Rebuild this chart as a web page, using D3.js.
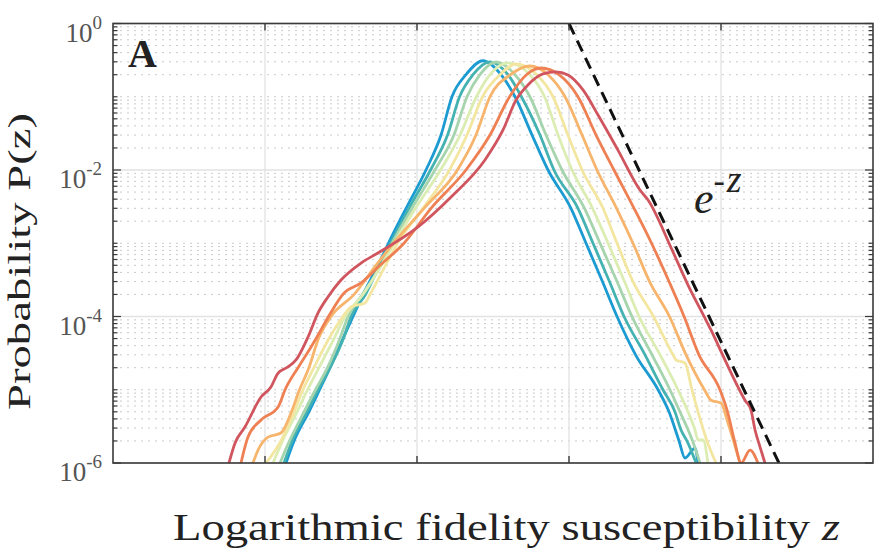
<!DOCTYPE html>
<html><head><meta charset="utf-8">
<script src="https://cdn.jsdelivr.net/npm/d3@7"></script>
<style>body{margin:0;background:#fff}svg{display:block}</style>
</head><body>
<script>
// ---- data (z = logarithmic fidelity susceptibility, P = probability) ----
const colors = ["#1b9bd1","#45b2b2","#a5d4ad","#dcedb3","#f3e6a0","#f7b46c","#ee8053","#d0555e"];

const zBlue = [-18.62,-18.09,-17.11,-16.41,-15.72,-14.87,-14.21,-13.55,-12.57,-11.88,-10.72,-9.41,-8.42,-7.70,-6.78,-5.66,-4.47,-3.55,-2.43,-1.38,0.13,1.12,2.20,3.16,4.38,5.86,6.58,7.24,7.63,8.29,8.49];
const pBlue = [1e-6,2e-6,5e-6,1e-5,2e-5,5e-5,1e-4,2e-4,5e-4,1e-3,3e-3,1e-2,3e-2,0.1,0.2,0.31,0.2,0.1,3e-2,1e-2,3e-3,1e-3,3e-4,1e-4,3e-5,1e-5,5e-6,2e-6,1.17e-6,1.6e-6,1e-6];

const zTeal = [-18.75,-18.22,-17.24,-16.51,-15.72,-14.84,-14.34,-13.39,-12.47,-11.74,-10.53,-9.11,-7.99,-7.20,-6.32,-5.20,-4.01,-3.13,-1.91,-0.99,0.59,1.58,2.66,3.62,5.00,6.18,6.97,7.37,7.76,8.36];
const pTeal = [1e-6,2e-6,5e-6,1e-5,2e-5,5e-5,1e-4,2e-4,5e-4,1e-3,3e-3,1e-2,3e-2,0.1,0.2,0.30,0.2,0.1,3e-2,1e-2,3e-3,1e-3,3e-4,1e-4,3e-5,1e-5,5e-6,2.82e-6,2e-6,1e-6];

const zGreen = [-19.01,-18.39,-17.43,-16.68,-15.89,-15.07,-14.54,-13.59,-12.37,-11.64,-10.33,-8.82,-7.57,-6.71,-5.86,-4.80,-3.55,-2.57,-1.51,-0.46,1.02,2.04,3.16,4.14,5.46,6.64,7.30,8.13,8.62];
const pGreen = [1e-6,2e-6,5e-6,1e-5,2e-5,5e-5,1e-4,2e-4,5e-4,1e-3,3e-3,1e-2,3e-2,0.1,0.2,0.298,0.2,0.1,3e-2,1e-2,3e-3,1e-3,3e-4,1e-4,3e-5,1e-5,5e-6,2e-6,1e-6];

const zPale = [-19.47,-18.85,-17.89,-17.20,-16.45,-15.46,-14.74,-13.55,-12.34,-11.51,-10.10,-8.45,-7.17,-6.09,-5.20,-4.01,-2.57,-1.61,-0.72,0.20,1.55,2.57,3.65,4.61,5.99,7.17,7.83,8.29,8.49,8.82,9.14];
const pPale = [1e-6,2e-6,5e-6,1e-5,2e-5,5e-5,1e-4,2e-4,5e-4,1e-3,3e-3,1e-2,3e-2,0.1,0.2,0.29,0.2,0.1,3e-2,1e-2,3e-3,1e-3,3e-4,1e-4,3e-5,1e-5,5e-6,2.82e-6,2.06e-6,2.06e-6,1e-6];

const zYellow = [-19.93,-18.95,-18.09,-17.50,-16.78,-15.79,-14.87,-14.34,-13.42,-13.09,-12.07,-11.28,-9.61,-7.86,-6.71,-5.69,-4.54,-3.49,-2.11,-1.05,-0.07,0.86,2.24,3.16,4.21,5.56,6.84,7.04,7.63,8.09,8.49,9.08,9.67];
const pYellow = [1e-6,2e-6,5e-6,1e-5,2e-5,5e-5,1e-4,1.35e-4,1.53e-4,2e-4,5e-4,1e-3,3e-3,1e-2,3e-2,0.1,0.2,0.28,0.2,0.1,3e-2,1e-2,3e-3,1e-3,3e-4,1e-4,3e-5,2.55e-5,2.32e-5,1e-5,5e-6,2e-6,1e-6];

const zLightOrange = [-20.79,-20.46,-19.80,-18.95,-18.26,-17.73,-17.11,-16.48,-15.66,-14.14,-12.70,-11.55,-9.54,-7.34,-6.12,-5.20,-3.85,-2.57,-1.38,-0.26,0.86,1.84,3.13,4.21,5.30,6.61,7.70,8.91,9.34,10.0,10.46,11.25];
const pLightOrange = [1e-6,1.5e-6,2.26e-6,2.57e-6,5e-6,1e-5,2e-5,5e-5,1e-4,2e-4,5e-4,1e-3,3e-3,1e-2,3e-2,0.1,0.2,0.263,0.2,0.1,3e-2,1e-2,3e-3,1e-3,3e-4,1e-4,3e-5,1e-5,7.2e-6,6.6e-6,3.52e-6,1e-6];

const zOrange = [-21.58,-21.12,-20.26,-19.14,-18.68,-17.83,-16.97,-16.64,-15.82,-14.80,-13.68,-12.43,-10.86,-9.08,-6.78,-5.20,-3.91,-2.80,-1.84,-0.66,0.59,1.78,2.96,4.28,5.43,6.58,7.57,8.55,9.93,10.43,10.89,11.32,11.91,12.43];
const pOrange = [1e-6,2.26e-6,3.86e-6,5.8e-6,1e-5,2e-5,3.84e-5,5e-5,1e-4,2.09e-4,2.87e-4,5e-4,1e-3,3e-3,1e-2,3e-2,0.1,0.2,0.247,0.2,0.1,3e-2,1e-2,3e-3,1e-3,3e-4,1e-4,3e-5,1e-5,5e-6,2e-6,1e-6,1.5e-6,1e-6];

const zRed = [-22.37,-21.97,-21.32,-20.26,-19.61,-19.14,-18.49,-17.96,-17.17,-16.51,-15.86,-15.0,-13.68,-12.57,-9.93,-7.76,-5.53,-4.34,-3.49,-2.70,-1.71,-0.86,-0.07,0.92,1.91,3.22,4.67,5.20,6.78,7.83,9.01,9.34,10.26,11.58,11.97,12.24,12.57,12.89];
const pRed = [1e-6,1.88e-6,3.1e-6,7.96e-6,1.09e-5,1.69e-5,2.05e-5,2.55e-5,5.25e-5,1.12e-4,1.85e-4,3.15e-4,5.37e-4,7.36e-4,1.67e-3,4.28e-3,1.37e-2,3.52e-2,9.0e-2,0.145,0.205,0.218,0.198,0.124,5.63e-2,1.87e-2,5.33e-3,3.89e-3,8.1e-4,2.69e-4,8.95e-5,6.55e-5,2.55e-5,7.2e-6,5.3e-6,2.82e-6,1.65e-6,1e-6];

const seriesZ = [zBlue,zTeal,zGreen,zPale,zYellow,zLightOrange,zOrange,zRed];
const seriesP = [pBlue,pTeal,pGreen,pPale,pYellow,pLightOrange,pOrange,pRed];

const refZ = [0, 14];          // e^{-z} reference line
const refP = [1, 8.3e-7];

const xTicks = [-20,-10,0,10];
const yMajor = [1e-6,1e-4,1e-2,1];
const yMajorExp = ["-6","-4","-2","0"];

// ---- drawing ----
const W = 875, H = 550;
const L = 113, R = 873, T = 23.5, B = 463;
const x = d3.scaleLinear().domain([-30,20]).range([L,R]);
const y = d3.scaleLog().domain([1e-6,1]).range([B,T]);

const svg = d3.select("body").append("svg").attr("width",W).attr("height",H);
svg.append("defs").append("clipPath").attr("id","clip")
  .append("rect").attr("x",L).attr("y",T).attr("width",R-L).attr("height",B-T);

const isMajor = v => yMajor.some(m => Math.abs(Math.log10(v)-Math.log10(m))<1e-6);
const minorVals = y.ticks().filter(v => !isMajor(v));

// minor dotted grid
svg.append("g").selectAll("line").data(minorVals).join("line")
  .attr("x1",L).attr("x2",R).attr("y1",d=>y(d)).attr("y2",d=>y(d))
  .attr("stroke","#c9c9c9").attr("stroke-width",1).attr("stroke-dasharray","2,5");
// major grid
svg.append("g").selectAll("line").data(yMajor).join("line")
  .attr("x1",L).attr("x2",R).attr("y1",d=>y(d)).attr("y2",d=>y(d))
  .attr("stroke","#e2e2e2").attr("stroke-width",1.3);
svg.append("g").selectAll("line").data(xTicks).join("line")
  .attr("y1",T).attr("y2",B).attr("x1",d=>x(d)).attr("x2",d=>x(d))
  .attr("stroke","#e2e2e2").attr("stroke-width",1.3);

// curves
const line = d3.line().x(d=>x(d[0])).y(d=>y(d[1])).curve(d3.curveMonotoneX);
const cg = svg.append("g").attr("clip-path","url(#clip)");
seriesZ.forEach((zs,i)=>{
  const pts = zs.map((z,j)=>[z, seriesP[i][j]]);
  cg.append("path").datum(pts).attr("d",line)
    .attr("fill","none").attr("stroke",colors[i]).attr("stroke-width",2.8)
    .attr("stroke-linejoin","round").attr("stroke-linecap","round");
});
// reference dashed line
cg.append("path").datum(refZ.map((z,j)=>[z,refP[j]])).attr("d",d3.line().x(d=>x(d[0])).y(d=>y(d[1])))
  .attr("fill","none").attr("stroke","#111").attr("stroke-width",3)
  .attr("stroke-dasharray","12,7");

// axes box
const ax = "#3a3a3a";
svg.append("rect").attr("x",L).attr("y",T).attr("width",R-L).attr("height",B-T)
  .attr("fill","none").attr("stroke",ax).attr("stroke-width",1.6);

// x ticks (top and bottom, inward)
const xt = svg.append("g");
xTicks.forEach(v=>{
  xt.append("line").attr("x1",x(v)).attr("x2",x(v)).attr("y1",B).attr("y2",B-7).attr("stroke",ax).attr("stroke-width",1.4);
  xt.append("line").attr("x1",x(v)).attr("x2",x(v)).attr("y1",T).attr("y2",T+7).attr("stroke",ax).attr("stroke-width",1.4);
});
// y ticks left and right
const yt = svg.append("g");
y.ticks().forEach(v=>{
  const len = isMajor(v) ? 8 : 4.5;
  yt.append("line").attr("x1",L).attr("x2",L+len).attr("y1",y(v)).attr("y2",y(v)).attr("stroke",ax).attr("stroke-width",1.2);
  yt.append("line").attr("x1",R).attr("x2",R-len).attr("y1",y(v)).attr("y2",y(v)).attr("stroke",ax).attr("stroke-width",1.2);
});

const serif = "'Liberation Serif','Times New Roman',serif";
// y tick labels 10^k
yMajor.forEach((v,i)=>{
  const t = svg.append("text").attr("x",102).attr("y",y(v)+18)
    .attr("text-anchor","end").attr("font-family",serif).attr("fill","#555")
    .attr("font-size",27);
  t.append("tspan").text("10");
  t.append("tspan").attr("dy",-13).attr("font-size",19).text(yMajorExp[i]);
});

// panel label
svg.append("text").attr("x",128).attr("y",67).attr("font-family",serif)
  .attr("font-weight","bold").attr("font-size",40).attr("fill","#222").text("A");

// e^{-z}
const el = svg.append("text").attr("x",694).attr("y",213).attr("font-family",serif).attr("fill","#222");
el.append("tspan").attr("font-style","italic").attr("font-size",44).text("e");
el.append("tspan").attr("dy",-21).attr("font-size",34).text("-");
el.append("tspan").attr("font-style","italic").attr("font-size",38).attr("dx",2).text("z");

// x axis label
const xl = svg.append("text").attr("x",173).attr("y",540).attr("font-family",serif)
  .attr("font-size",37).attr("fill","#222");
xl.append("tspan").text("Logarithmic fidelity susceptibility ");
xl.append("tspan").attr("font-style","italic").text("z");
xl.attr("textLength",667).attr("lengthAdjust","spacingAndGlyphs");

// y axis label
const ylab = svg.append("text").attr("transform","translate(30,410) rotate(-90)")
  .attr("font-family",serif).attr("font-size",32).attr("fill","#222")
  .text("Probability P(z)");
ylab.attr("textLength",297).attr("lengthAdjust","spacingAndGlyphs");
</script>
</body></html>
